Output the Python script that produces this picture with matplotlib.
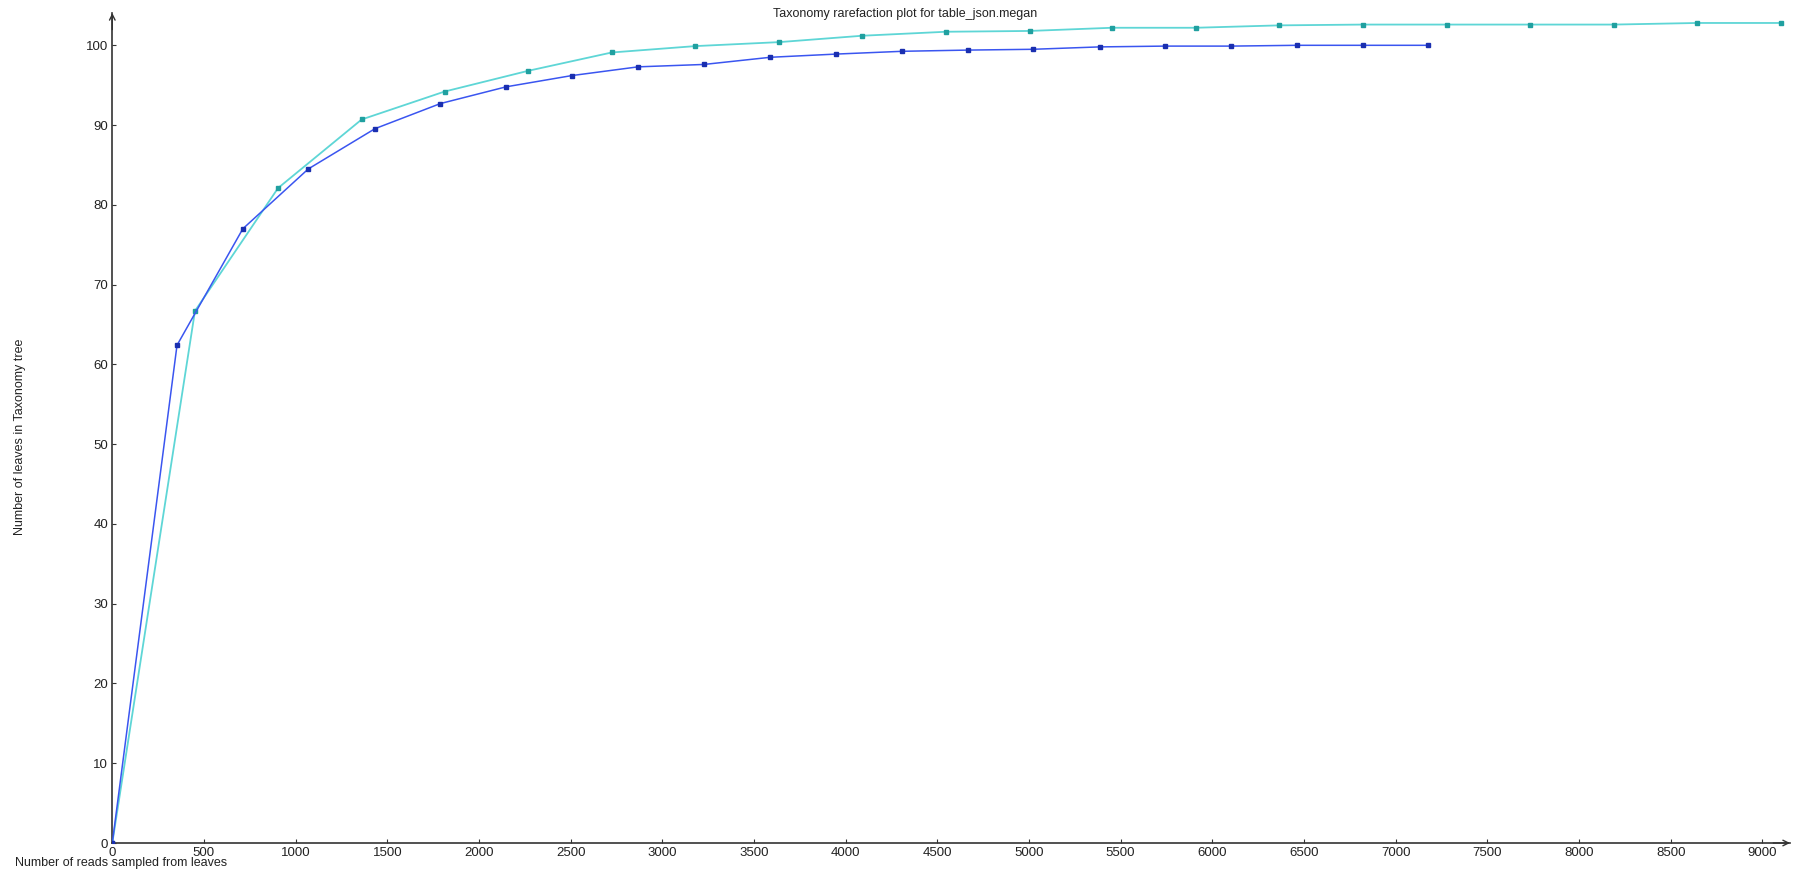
import matplotlib
matplotlib.use("Agg")
import matplotlib.pyplot as plt

plt.rcParams['font.family'] = ['Liberation Sans', 'DejaVu Sans']

# rarefaction points
sample1_reads = [0, 353, 712, 1069, 1433, 1790, 2149, 2505, 2868, 3227, 3590,
                 3948, 4310, 4666, 5021, 5385, 5741, 6104, 6460, 6822, 7178]
sample1_leaves = [0, 62.4, 77.0, 84.5, 89.55, 92.7, 94.8, 96.2, 97.3, 97.6, 98.5,
                  98.9, 99.25, 99.4, 99.5, 99.8, 99.9, 99.9, 100.0, 100.0, 100.0]

sample2_reads = [0, 451, 904, 1360, 1812, 2268, 2724, 3180, 3638, 4091, 4548,
                 5004, 5454, 5910, 6366, 6822, 7279, 7733, 8191, 8644, 9100]
sample2_leaves = [0, 66.7, 82.1, 90.7, 94.2, 96.8, 99.1, 99.9, 100.4, 101.2, 101.7,
                  101.8, 102.2, 102.2, 102.5, 102.6, 102.6, 102.6, 102.6, 102.8, 102.8]

x_ticks = list(range(0, 9001, 500))
y_ticks = list(range(0, 101, 10))

W, H = 1796, 876
fig = plt.figure(figsize=(W / 100, H / 100), dpi=100)
ax = fig.add_axes([112.3 / W, 33 / H, (1790 - 112.3) / W, (843 - 13) / H])

ax.plot(sample1_reads, sample1_leaves, color="#3a55f0", lw=1.1,
        marker="s", ms=2.2, mfc="#1a2fb0", mec="#1a2fb0", zorder=3)
ax.plot(sample2_reads, sample2_leaves, color="#5ed6d6", lw=1.3,
        marker="s", ms=2.2, mfc="#20a0a0", mec="#20a0a0", zorder=2)

ax.set_xlim(0, 9151)
ax.set_ylim(0, 104.05)
ax.set_xticks(x_ticks)
ax.set_yticks(y_ticks)
ax.tick_params(direction="in", length=3, width=0.8, labelsize=9.5, colors="#333333",
               labelcolor="#222222", pad=3)

for s in ("top", "right"):
    ax.spines[s].set_visible(False)
for s in ("left", "bottom"):
    ax.spines[s].set_color("#333333")
    ax.spines[s].set_linewidth(1.2)

# open arrow heads at the axis ends
arrow = dict(arrowstyle="->", color="#333333", lw=1.0, mutation_scale=10,
             shrinkA=0, shrinkB=0)
ax.annotate("", xy=(1, 0), xytext=(0.99, 0), xycoords="axes fraction",
            arrowprops=arrow, annotation_clip=False)
ax.annotate("", xy=(0, 1), xytext=(0, 0.98), xycoords="axes fraction",
            arrowprops=arrow, annotation_clip=False)

fig.text(905 / W, 1 - 14 / H, "Taxonomy rarefaction plot for table_json.megan",
         ha="center", va="center", fontsize=9, color="#222222")
fig.text(15 / W, 1 - 863 / H, "Number of reads sampled from leaves",
         ha="left", va="center", fontsize=9, color="#222222")
fig.text(20 / W, 1 - 437 / H, "Number of leaves in Taxonomy tree",
         ha="center", va="center", rotation=90, fontsize=9, color="#222222")

fig.savefig("out.png", dpi=100, facecolor="white")
